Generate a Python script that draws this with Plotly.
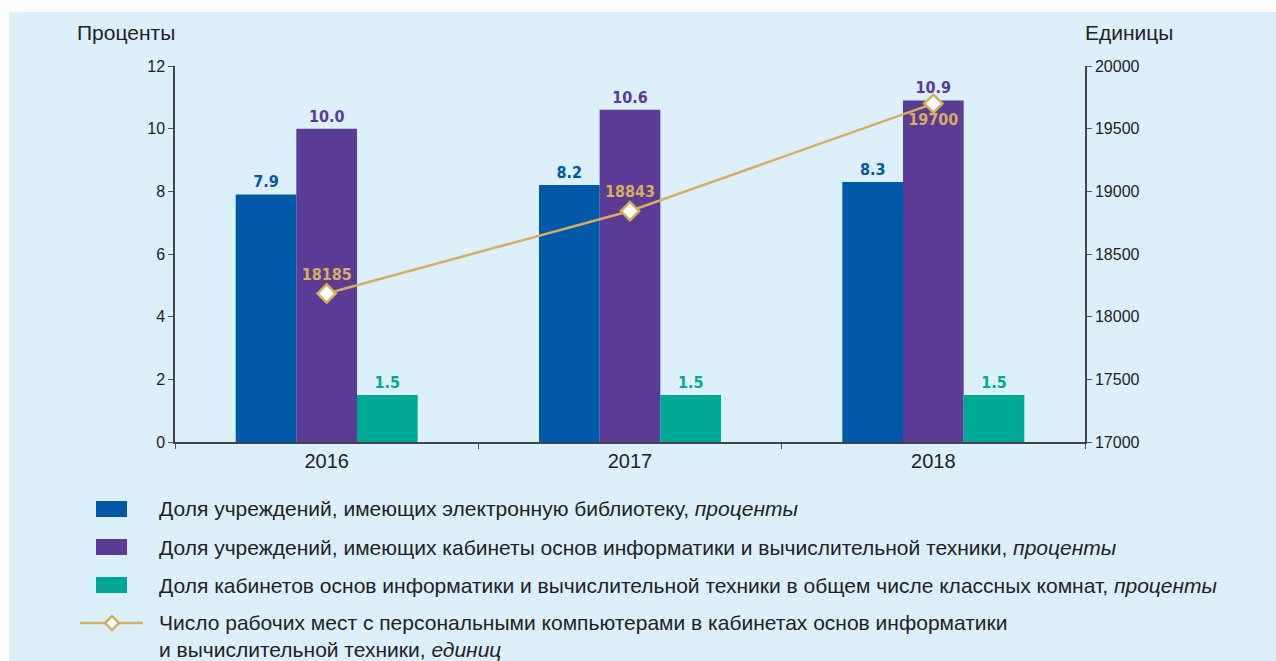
"""Computer classrooms in schools, 2016-2018."""

import plotly.graph_objects as go

YEARS = ["2016", "2017", "2018"]
SHARE_E_LIBRARY = [7.9, 8.2, 8.3]
SHARE_IT_ROOMS = [10.0, 10.6, 10.9]
SHARE_IT_CLASSROOMS = [1.5, 1.5, 1.5]
WORKPLACES = [18185, 18843, 19700]

BAR_NAMES = [
    "Доля учреждений, имеющих электронную библиотеку, <i>проценты</i>",
    "Доля учреждений, имеющих кабинеты основ информатики и вычислительной техники, <i>проценты</i>",
    "Доля кабинетов основ информатики и вычислительной техники в общем числе классных комнат, <i>проценты</i>",
]
BAR_VALUES = [SHARE_E_LIBRARY, SHARE_IT_ROOMS, SHARE_IT_CLASSROOMS]
BAR_COLORS = ["#0058a8", "#5a3b95", "#00a896"]
LINE_NAME = ("Число рабочих мест с персональными компьютерами в кабинетах основ информатики"
             "<br>и вычислительной техники, <i>единиц</i>")
LINE_COLOR = "#d4b05c"

BG = "#dbf0fb"
TEXT = "#222222"
FONT = "Liberation Sans, Arial, sans-serif"
LABEL_FONT = "DejaVu Sans Condensed, Liberation Sans, sans-serif"

W, H = 1276, 661
L, R, T, B = 175, 1085, 66, 442  # plot area in pixels


def _px(x):
    return (x - L) / (R - L)


def _py(y):
    return (B - y) / (B - T)


fig = go.Figure()

for name, values, color in zip(BAR_NAMES, BAR_VALUES, BAR_COLORS):
    fig.add_trace(go.Bar(
        name=name,
        x=YEARS,
        y=values,
        marker=dict(color=color, line_width=0),
        texttemplate="%{y:.1f}",
        textposition="outside",
        textfont=dict(family=LABEL_FONT, size=16, color=color, weight="bold"),
        cliponaxis=False,
    ))

fig.add_trace(go.Scatter(
    name=LINE_NAME,
    x=YEARS,
    y=WORKPLACES,
    yaxis="y2",
    mode="lines+markers+text",
    line=dict(color=LINE_COLOR, width=2.5),
    marker=dict(symbol="diamond", size=14, color="white", line=dict(color=LINE_COLOR, width=2.5)),
    text=[str(v) for v in WORKPLACES],
    textposition=["top center", "top center", "bottom center"],
    textfont=dict(family=LABEL_FONT, size=16, color=LINE_COLOR, weight="bold"),
    cliponaxis=False,
))

axis_common = dict(
    showline=True,
    linecolor="#444444",
    linewidth=1.5,
    ticks="outside",
    ticklen=5,
    tickcolor="#555555",
    showgrid=False,
    zeroline=False,
    tickfont=dict(family=FONT, size=16, color=TEXT),
)

# hand-made legend: swatches as shapes, labels as annotations
shapes = [
    # white strips at top and left edge of the page
    dict(type="rect", xref="paper", yref="paper", x0=_px(0), x1=_px(W), y0=_py(12), y1=_py(0),
         fillcolor="white", line_width=0, layer="below"),
    dict(type="rect", xref="paper", yref="paper", x0=_px(0), x1=_px(9), y0=_py(H), y1=_py(0),
         fillcolor="white", line_width=0, layer="below"),
]
annotations = []
legend_rows = [509, 547, 585]
for name, color, yc in zip(BAR_NAMES, BAR_COLORS, legend_rows):
    shapes.append(dict(type="rect", xref="paper", yref="paper",
                       x0=_px(96), x1=_px(127), y0=_py(yc + 8), y1=_py(yc - 8),
                       fillcolor=color, line_width=0))
    annotations.append(dict(text=name, xref="paper", yref="paper", x=_px(157), y=_py(yc),
                            xanchor="left", yanchor="middle", showarrow=False,
                            font=dict(family=FONT, size=21, color=TEXT)))

line_y = 623
shapes.append(dict(type="line", xref="paper", yref="paper", x0=_px(80), x1=_px(143),
                   y0=_py(line_y), y1=_py(line_y), line=dict(color=LINE_COLOR, width=2.5)))
d = 7
shapes.append(dict(
    type="path", xref="paper", yref="paper",
    path=(f"M {_px(112 - d)} {_py(line_y)} L {_px(112)} {_py(line_y - d)} "
          f"L {_px(112 + d)} {_py(line_y)} L {_px(112)} {_py(line_y + d)} Z"),
    fillcolor="white", line=dict(color=LINE_COLOR, width=2.5),
))
annotations.append(dict(text=LINE_NAME, xref="paper", yref="paper", x=_px(157), y=_py(line_y - 14),
                        xanchor="left", yanchor="top", align="left", showarrow=False,
                        font=dict(family=FONT, size=21, color=TEXT)))

annotations += [
    dict(text="Проценты", xref="paper", yref="paper", x=_px(75), y=_py(33), xanchor="left",
         yanchor="middle", showarrow=False, font=dict(family=FONT, size=21, color=TEXT)),
    dict(text="Единицы", xref="paper", yref="paper", x=_px(1083), y=_py(33), xanchor="left",
         yanchor="middle", showarrow=False, font=dict(family=FONT, size=21, color=TEXT)),
]

fig.update_layout(
    width=W,
    height=H,
    paper_bgcolor=BG,
    plot_bgcolor=BG,
    font=dict(family=FONT, color=TEXT),
    margin=dict(l=L, r=W - R, t=T, b=H - B),
    barmode="group",
    bargap=0.4,
    bargroupgap=0,
    showlegend=False,
    xaxis=dict(axis_common, tickson="boundaries", tickfont=dict(family=FONT, size=20, color=TEXT)),
    yaxis=dict(axis_common, range=[0, 12], dtick=2),
    yaxis2=dict(axis_common, range=[17000, 20000], dtick=500, tickformat="d",
                overlaying="y", side="right"),
    shapes=shapes,
    annotations=annotations,
)

fig.write_html(
    "out.html",
    config={"displayModeBar": False},
    post_script="document.body.style.margin='0';",
)
